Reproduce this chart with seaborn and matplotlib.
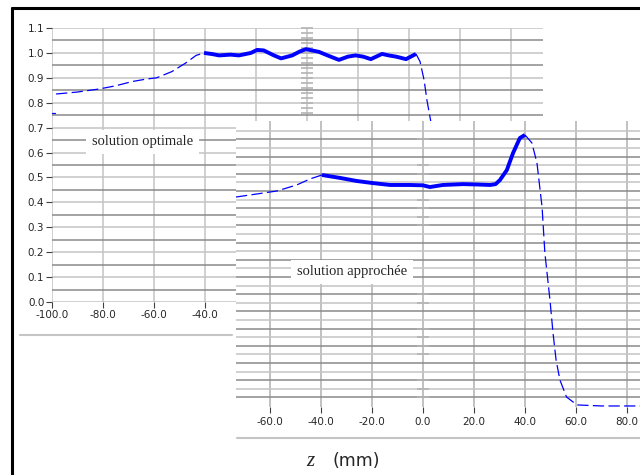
import numpy as np
import pandas as pd
import matplotlib
matplotlib.use("Agg")
import matplotlib.pyplot as plt
import seaborn as sns
from matplotlib.ticker import MultipleLocator, FixedLocator, FormatStrFormatter
from matplotlib.lines import Line2D

# solution optimale (graphe du haut)
z_opt_debut = [-100, -98.8]
v_opt_debut = [0.757, 0.757]
z_opt = [-98.4, -90, -81.6, -75, -68.6, -63, -59, -53, -47.5, -43.5, -40.4,
         -37, -34.5, -30, -26.7, -22, -19.6, -17, -13, -10.2, -5.8, -3, -0.4,
         4.7, 8, 12.5, 16, 19, 22, 25, 29.4, 32, 34.9, 38.8, 42.7,
         44.3, 45.9, 47, 48.6, 50]
v_opt = [0.835, 0.843, 0.855, 0.868, 0.885, 0.895, 0.90, 0.925, 0.96, 0.99, 1.0,
         0.995, 0.99, 0.993, 0.99, 1.0, 1.012, 1.01, 0.99, 0.978, 0.99, 1.005, 1.015,
         1.004, 0.99, 0.972, 0.985, 0.99, 0.985, 0.975, 0.996, 0.99, 0.985, 0.975, 0.996,
         0.965, 0.89, 0.81, 0.72, 0.62]

# solution approchee (graphe du bas, unites propres)
z_app = [-73.3, -62.7, -57.3, -49.5, -44.3, -39.6, -32.5, -25.9, -19.6, -12.9,
         -5.1, 0, 2.7, 7.8, 15.7, 21, 26.3, 28.5, 30.2, 32.9, 35.3, 38, 40,
         42.7, 44.7, 46.7, 47.8, 49.8, 51, 52.2, 53.7, 56.3, 60.4, 70, 85.1]
v_app = [1.215, 1.238, 1.25, 1.285, 1.32, 1.343, 1.326, 1.308, 1.296, 1.285,
         1.285, 1.283, 1.273, 1.285, 1.29, 1.288, 1.285, 1.29, 1.314, 1.372, 1.47, 1.558, 1.576,
         1.53, 1.413, 1.157, 0.89, 0.616, 0.424, 0.267, 0.151, 0.052, 0.006, 0.0, 0.0]

opt_ticks_x = [-100, -80, -60, -40, -20, 0, 20, 40, 60, 80]
app_ticks_x = [-60, -40, -20, 0, 20, 40, 60, 80]
app_center_ticks = [1.55, 1.4, 1.35, 1.2, 1.15, 1.1, 1.05, 0.65, 0.6, 0.45, 0.4,
                    0.35, 0.3, 0.15, 0.1, 0.05]

bleu = "#0000ff"
light = "#c4c4c4"
dark = "#8a8a8a"

sns.set_style("white")
plt.rcParams["font.family"] = ["DejaVu Sans"]

W, H = 640, 475
fig = plt.figure(figsize=(6.4, 4.75), dpi=100)


def seg(ax, z, v, lo, hi, **kw):
    d = pd.DataFrame({"z": z, "v": v})
    d = d[(d.z >= lo) & (d.z <= hi)]
    sns.lineplot(data=d, x="z", y="v", ax=ax, sort=False, estimator=None,
                 color=bleu, zorder=3, **kw)


def center_axis(ax, ticks, xlim):
    loc = (0 - xlim[0]) / (xlim[1] - xlim[0])
    sec = ax.secondary_yaxis(loc)
    sec.set_zorder(1)
    sec.spines["right"].set_visible(False)
    sec.spines["left"].set_visible(False)
    sec.yaxis.set_major_locator(FixedLocator(ticks))
    sec.tick_params(axis="y", direction="inout", length=9, width=1.2,
                    color="#b4b4b4", labelleft=False, labelright=False)
    return sec


tirets = (0, (9, 3.5))

# ---- graphe du haut
ax1 = fig.add_axes([52 / W, 1 - 302 / H, (543 - 52) / W, (302 - 28) / H])
ax1.set_zorder(0)
xl1 = (-100, 92.5)
ax1.set_xlim(*xl1)
ax1.set_ylim(0, 1.1)
seg(ax1, z_opt_debut, v_opt_debut, -101, -98, lw=0.9)
seg(ax1, z_opt, v_opt, -101, -40.4, lw=0.9, linestyle=tirets)
seg(ax1, z_opt, v_opt, -40.4, 42.7, lw=2.8, solid_capstyle="butt")
seg(ax1, z_opt, v_opt, 42.7, 60, lw=0.9, linestyle=tirets)
ax1.yaxis.set_major_locator(MultipleLocator(0.1))
ax1.yaxis.set_minor_locator(MultipleLocator(0.05))
ax1.set_xticks(opt_ticks_x)
ax1.xaxis.set_major_formatter(FormatStrFormatter("%.1f"))
ax1.yaxis.set_major_formatter(FormatStrFormatter("%.1f"))
ax1.grid(True, which="major", color=light, lw=1.1)
ax1.grid(True, which="minor", axis="y", color=dark, lw=1.1)
ax1.tick_params(axis="both", which="major", labelsize=7.5, length=4,
                color="#404040", direction="out", pad=1.5, left=True, bottom=True)
ax1.tick_params(axis="y", which="minor", length=0)
for s in ax1.spines.values():
    s.set_visible(False)
ax1.set_xlabel("")
ax1.set_ylabel("")
center_axis(ax1, np.arange(0.76, 1.1, 0.02), xl1)
ax1.text(-64.5, 0.643, "solution optimale", family="Liberation Serif",
         fontsize=10.5, ha="center", va="center",
         bbox=dict(facecolor="white", edgecolor="none", pad=4))

# ---- graphe du bas
ax2 = fig.add_axes([236 / W, 1 - 407 / H, (W - 236) / W, (407 - 121) / H])
ax2.set_zorder(2)
ax2.set_facecolor("white")
xl2 = (-73.3, 85.1)
ax2.set_xlim(*xl2)
ax2.set_ylim(-0.006, 1.657)
seg(ax2, z_app, v_app, -80, -39.6, lw=0.9, linestyle=tirets)
seg(ax2, z_app, v_app, -39.6, 40, lw=2.8, solid_capstyle="butt")
seg(ax2, z_app, v_app, 40, 90, lw=0.9, linestyle=tirets)
ax2.yaxis.set_major_locator(FixedLocator(np.arange(0.1, 1.65, 0.1)))
ax2.yaxis.set_minor_locator(FixedLocator(np.arange(0.05, 1.65, 0.1)))
ax2.set_xticks(app_ticks_x)
ax2.xaxis.set_major_formatter(FormatStrFormatter("%.1f"))
ax2.grid(True, which="major", axis="y", color=light, lw=1.1)
ax2.grid(True, which="minor", axis="y", color=dark, lw=1.1)
ax2.grid(True, which="major", axis="x", color="#b0b0b0", lw=1.1)
ax2.tick_params(axis="x", labelsize=7.5, length=4, color="#404040",
                direction="out", pad=3, bottom=True)
ax2.tick_params(axis="y", which="both", length=0, labelleft=False)
for s in ax2.spines.values():
    s.set_visible(False)
ax2.set_xlabel("")
ax2.set_ylabel("")
center_axis(ax2, app_center_ticks, xl2)
ax2.text(-27.8, 0.78, "solution approch\u00e9e", family="Liberation Serif",
         fontsize=10.5, ha="center", va="center",
         bbox=dict(facecolor="white", edgecolor="none", pad=4))

# cadre et filets
fig.add_artist(Line2D([12 / W, 12 / W], [0, 1 - 8 / H], color="black", lw=2.2))
fig.add_artist(Line2D([12 / W, 1], [1 - 8 / H, 1 - 8 / H], color="black", lw=2.2))
fig.add_artist(Line2D([20 / W, 232 / W], [1 - 335 / H, 1 - 335 / H], color=light, lw=1.5))
fig.add_artist(Line2D([237 / W, 1], [1 - 438 / H, 1 - 438 / H], color=light, lw=1.5))

fig.text(310 / W, 1 - 462 / H, "z", family="Liberation Serif", style="italic",
         fontsize=15, ha="center", va="center")
fig.text(356 / W, 1 - 461 / H, "(mm)", fontsize=12.5, ha="center", va="center")

fig.savefig("out.png", dpi=100)
